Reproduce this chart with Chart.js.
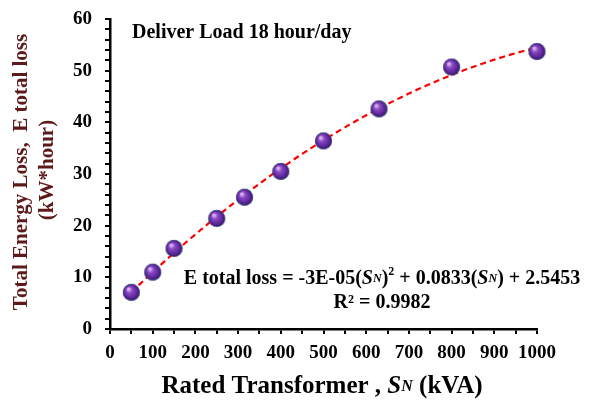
<!DOCTYPE html>
<html><head><meta charset="utf-8">
<script src="https://cdn.jsdelivr.net/npm/chart.js@4.4.1/dist/chart.umd.min.js"></script>
<style>html,body{margin:0;padding:0;background:#fff}#wrap{width:595px;height:404px}</style>
</head><body><div id="wrap"><canvas id="c" width="595" height="404"></canvas></div>
<script>
// Data
const ratedKVA = [50, 100, 150, 250, 315, 400, 500, 630, 800, 1000];
const energyLoss = [7.1, 11.0, 15.6, 21.4, 25.5, 30.5, 36.4, 42.6, 50.7, 53.7];
const chartTitle = 'Deliver Load 18 hour/day';
const yTitleLines = ['Total Energy Loss,  E total loss', '(kW*hour)'];
const equationText = ['E total loss = -3E-05(', {it:'S'}, {sm:'N'}, ')', {sup:'2'}, ' + 0.0833(', {it:'S'}, {sm:'N'}, ') + 2.5453'];
const r2Text = 'R² = 0.9982';

// quadratic least-squares trendline from the data
function polyfit2(xs, ys){
  let n=xs.length,s=[0,0,0,0,0],t=[0,0,0];
  for(let i=0;i<n;i++){let x=xs[i],y=ys[i];for(let k=0;k<5;k++)s[k]+=Math.pow(x,k);for(let k=0;k<3;k++)t[k]+=y*Math.pow(x,k);}
  const A=[[s[0],s[1],s[2],t[0]],[s[1],s[2],s[3],t[1]],[s[2],s[3],s[4],t[2]]];
  for(let i=0;i<3;i++){for(let j=i+1;j<3;j++){const f=A[j][i]/A[i][i];for(let k=i;k<4;k++)A[j][k]-=f*A[i][k];}}
  const c=[0,0,0];for(let i=2;i>=0;i--){let v=A[i][3];for(let k=i+1;k<3;k++)v-=A[i][k]*c[k];c[i]=v/A[i][i];}
  return c;
}
const coef = polyfit2(ratedKVA, energyLoss);
const trend = [];
for(let x=ratedKVA[0]; x<=ratedKVA[ratedKVA.length-1]; x+=10){ trend.push({x:x, y:coef[0]+coef[1]*x+coef[2]*x*x}); }

// sphere sprite
function sphere(r){
  const c=document.createElement('canvas'); const s=Math.ceil(r*2+2); c.width=s;c.height=s;
  const g=c.getContext('2d'); const cx=s/2, cy=s/2;
  const gr=g.createRadialGradient(cx-r*0.35,cy-r*0.4,r*0.1,cx,cy,r);
  gr.addColorStop(0,'#d9b8f0'); gr.addColorStop(0.3,'#8a48c4'); gr.addColorStop(0.75,'#5a2496'); gr.addColorStop(1,'#2e1660');
  g.fillStyle=gr; g.beginPath(); g.arc(cx,cy,r,0,Math.PI*2); g.fill();
  g.strokeStyle='rgba(70,90,140,0.7)'; g.lineWidth=1; g.beginPath(); g.arc(cx,cy,r-0.3,0,Math.PI*2); g.stroke();
  return c;
}
const ball = sphere(8.5);

const SERIF = "'Liberation Serif','Times New Roman',serif";
function drawRuns(ctx, runs, cx, y, size){
  const parts = runs.map(r=>{
    if(typeof r==='string') return {t:r,f:`bold ${size}px ${SERIF}`,dy:0};
    if(r.it) return {t:r.it,f:`italic bold ${size}px ${SERIF}`,dy:0};
    if(r.sm) return {t:r.sm,f:`italic bold ${Math.round(size*0.62)}px ${SERIF}`,dy:0};
    if(r.sup) return {t:r.sup,f:`bold ${Math.round(size*0.62)}px ${SERIF}`,dy:-size*0.35};
  });
  let w=0; parts.forEach(p=>{ctx.font=p.f;p.w=ctx.measureText(p.t).width;w+=p.w;});
  let x=cx-w/2;
  parts.forEach(p=>{ctx.font=p.f;ctx.fillText(p.t,x,y+p.dy);x+=p.w;});
}

const textPlugin = {
  id:'texts',
  afterDraw(chart){
    const ctx=chart.ctx; ctx.save();
    ctx.textBaseline='middle'; ctx.textAlign='left'; ctx.fillStyle='#000';
    // title
    ctx.font=`bold 20px ${SERIF}`; ctx.fillText(chartTitle,132,33);
    // equation
    drawRuns(ctx, equationText, 382, 279, 20);
    drawRuns(ctx, [r2Text], 382, 303, 20);
    // x title
    drawRuns(ctx, ['Rated Transformer , ', {it:'S'}, {sm:'N'}, ' (kVA)'], 322, 387, 25);
    // y title
    ctx.fillStyle='#5e1a1a'; ctx.textAlign='center';
    ctx.font=`bold 21px ${SERIF}`;
    ctx.save(); ctx.translate(22,172); ctx.rotate(-Math.PI/2); ctx.fillText(yTitleLines[0],0,0); ctx.restore();
    ctx.save(); ctx.translate(48,170); ctx.rotate(-Math.PI/2); ctx.fillText(yTitleLines[1],0,0); ctx.restore();
    ctx.restore();
  }
};

new Chart(document.getElementById('c'), {
  type:'scatter',
  data:{datasets:[
    {label:'loss', data:ratedKVA.map((x,i)=>({x:x,y:energyLoss[i]})), pointStyle:ball, pointRadius:8, pointHoverRadius:8, showLine:false},
    {label:'trend', data:trend, showLine:true, borderColor:'#ff0000', borderWidth:2.2, borderDash:[6,4], pointRadius:0, fill:false, tension:0}
  ]},
  plugins:[textPlugin],
  options:{
    responsive:false, animation:false, devicePixelRatio:1,
    layout:{padding:{left:0,right:58,top:19,bottom:0}},
    plugins:{legend:{display:false}, tooltip:{enabled:false}},
    clip:false,
    scales:{
      x:{type:'linear', min:0, max:1000,
        afterFit(s){s.height=75; s.paddingLeft=0; s.paddingRight=0;},
        border:{display:true,color:'#000',width:2.5},
        grid:{drawOnChartArea:false, drawTicks:true, tickLength:5, color:'#000', lineWidth:2},
        ticks:{stepSize:50, autoSkip:false, maxRotation:0, padding:8, color:'#000',
          font:{family:SERIF, size:19, weight:'bold'},
          callback:v=> (v%100===0? String(v):'')}
      },
      y:{type:'linear', min:0, max:60,
        afterFit(s){s.width=110; s.paddingTop=0; s.paddingBottom=0;},
        border:{display:true,color:'#000',width:2.5},
        grid:{drawOnChartArea:false, drawTicks:true, tickLength:5, color:'#000', lineWidth:2},
        ticks:{stepSize:2, autoSkip:false, padding:13, color:'#000',
          font:{family:SERIF, size:19, weight:'bold'},
          callback:v=> (v%10===0? String(v):'')}
      }
    }
  }
});
</script></body></html>
